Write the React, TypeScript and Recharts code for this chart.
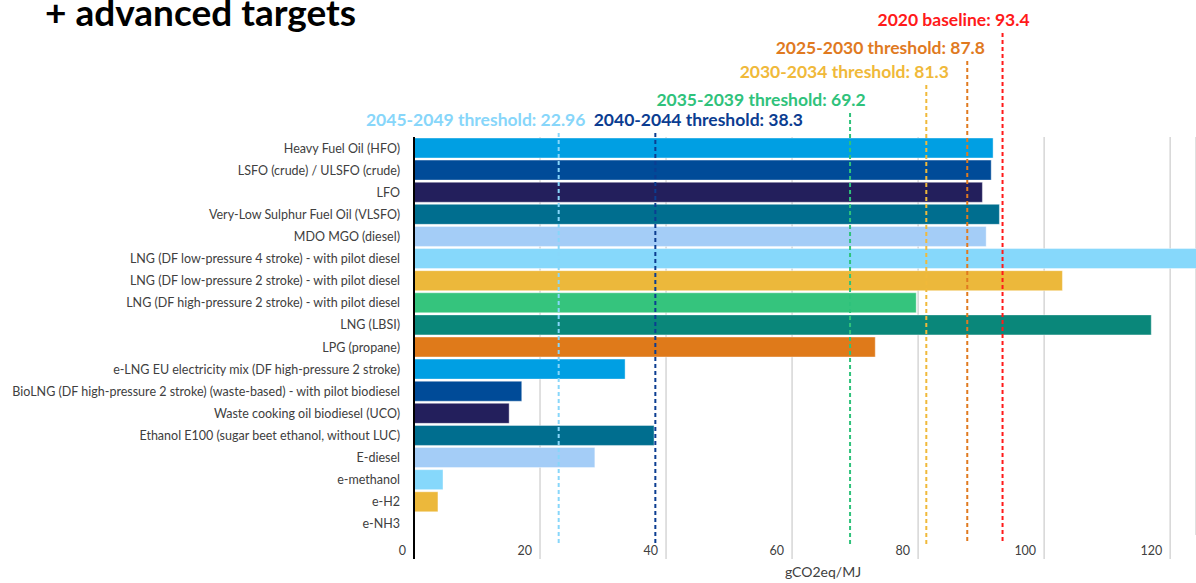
import React from 'react';
import {
  BarChart, Bar, XAxis, YAxis, CartesianGrid, ReferenceLine, Cell
} from 'recharts';

// fuel pathways, top to bottom
const categories = [
  'Heavy Fuel Oil (HFO)',
  'LSFO (crude) / ULSFO (crude)',
  'LFO',
  'Very-Low Sulphur Fuel Oil (VLSFO)',
  'MDO MGO (diesel)',
  'LNG (DF low-pressure 4 stroke) - with pilot diesel',
  'LNG (DF low-pressure 2 stroke) - with pilot diesel',
  'LNG (DF high-pressure 2 stroke) - with pilot diesel',
  'LNG (LBSI)',
  'LPG (propane)',
  'e-LNG EU electricity mix (DF high-pressure 2 stroke)',
  'BioLNG (DF high-pressure 2 stroke) (waste-based) - with pilot biodiesel',
  'Waste cooking oil biodiesel (UCO)',
  'Ethanol E100 (sugar beet ethanol, without LUC)',
  'E-diesel',
  'e-methanol',
  'e-H2',
  'e-NH3',
];

// gCO2eq/MJ
const intensity = [91.9, 91.6, 90.2, 92.9, 90.8, 125, 102.9, 79.7, 117.0, 73.2, 33.5, 17.1, 15.1, 38.1, 28.7, 4.6, 3.8, 0];

const barColors = [
  '#009fe3', '#004b98', '#231f5c', '#006e8f', '#a4cdf7', '#86d8fb', '#ecb83b', '#35c47d', '#0a877a', '#df7a1a',
  '#009fe3', '#004b98', '#231f5c', '#006e8f', '#a4cdf7', '#86d8fb', '#ecb83b', '#35c47d',
];

const xTicks = [0, 20, 40, 60, 80, 100, 120];

const thresholdNames = [
  '2020 baseline',
  '2025-2030 threshold',
  '2030-2034 threshold',
  '2035-2039 threshold',
  '2040-2044 threshold',
  '2045-2049 threshold',
];
const thresholdValues = [93.4, 87.8, 81.3, 69.2, 38.3, 22.96];
const thresholdLabels = ['93.4', '87.8', '81.3', '69.2', '38.3', '22.96'];

// look of each threshold line: colour, how far it rises above the plot, label shift
const thresholdStyles = [
  { color: '#ff1a1a', rise: 104, dx: -49 },
  { color: '#e07a1f', rise: 76, dx: -87 },
  { color: '#f0b93a', rise: 52, dx: -82 },
  { color: '#2fc27b', rise: 24, dx: -89 },
  { color: '#0b3d91', rise: 4, dx: 43 },
  { color: '#87d6fa', rise: 4, dx: -83 },
];

const data = categories.map((name, i) => ({ name, value: intensity[i] }));

const FONT = 'Lato, "Noto Sans", sans-serif';

const XTick = (props: any) => {
  const { x, y, payload } = props;
  const isZero = payload.value === 0;
  return (
    <g>
      <line x1={x} x2={x} y1={y} y2={y + 24} stroke={isZero ? '#000' : '#d6d6d6'} strokeWidth={isZero ? 2 : 1.5} />
      <text x={x - 8} y={y + 20} textAnchor="end" fontSize={12.5} fill="#404040" fontFamily={FONT}>
        {payload.value}
      </text>
    </g>
  );
};

// single-line category labels (long ones run off the left edge like the original)
const YTick = (props: any) => {
  const { x, y, payload } = props;
  return (
    <text x={x} y={y + 4.5} textAnchor="end" fontSize={12.5} fill="#404040" fontFamily={FONT}>
      {payload.value}
    </text>
  );
};

const makeThresholdShape = (i: number) => (props: any) => {
  const { x1, y1, y2 } = props;
  const st = thresholdStyles[i];
  const top = Math.min(y1, y2) - st.rise;
  const bottom = Math.max(y1, y2) + 9;
  return (
    <g>
      <line x1={x1} x2={x1} y1={top} y2={bottom} stroke={st.color} strokeWidth={2} strokeDasharray="4 3" />
      <text
        x={x1 + st.dx}
        y={top - 7}
        textAnchor="middle"
        fontSize={17.5}
        fontWeight={700}
        fill={st.color}
        fontFamily={FONT}
      >
        {`${thresholdNames[i]}: ${thresholdLabels[i]}`}
      </text>
    </g>
  );
};

const App: React.FC = () => {
  return (
    <div style={{ position: 'absolute', left: 0, top: 0, width: 1196, height: 583, background: '#fff' }}>
      <BarChart
        width={1196}
        height={583}
        data={data}
        layout="vertical"
        margin={{ top: 137, right: 0, bottom: 0, left: 0 }}
      >
        <CartesianGrid vertical horizontal={false} stroke="#d6d6d6" strokeWidth={1.5} />
        <XAxis
          type="number"
          domain={[0, 124.1]}
          ticks={xTicks}
          allowDataOverflow
          height={48}
          axisLine={false}
          tickLine={false}
          tickSize={0}
          tickMargin={0}
          tick={<XTick />}
          label={{ value: 'gCO2eq/MJ', position: 'insideBottom', offset: 6, dx: 18, fontSize: 14, fill: '#404040', fontFamily: FONT }}
        />
        <YAxis
          type="category"
          dataKey="name"
          width={414}
          interval={0}
          tickLine={false}
          tickSize={0}
          tickMargin={14}
          axisLine={{ stroke: '#000', strokeWidth: 2 }}
          tick={<YTick />}
        />
        <Bar dataKey="value" barSize={20} isAnimationActive={false} stroke="#ffffff" strokeOpacity={0.4} strokeWidth={1}>
          {data.map((d, i) => (
            <Cell key={d.name} fill={barColors[i]} />
          ))}
        </Bar>
        {thresholdValues.map((v, i) => (
          <ReferenceLine key={thresholdNames[i]} x={v} ifOverflow="visible" shape={makeThresholdShape(i)} />
        ))}
      </BarChart>
      <svg width={1196} height={40} style={{ position: 'absolute', left: 0, top: 0, pointerEvents: 'none' }}>
        <text x={45} y={26} fontSize={37} fontWeight={700} fill="#000" fontFamily={FONT}>
          + advanced targets
        </text>
      </svg>
    </div>
  );
};

export default App;
